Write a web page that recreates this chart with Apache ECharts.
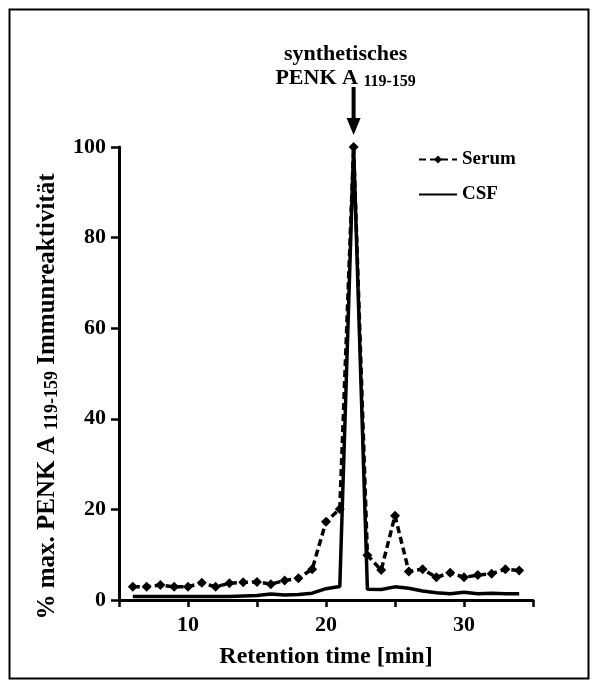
<!DOCTYPE html>
<html>
<head>
<meta charset="utf-8">
<script src="https://cdn.jsdelivr.net/npm/echarts@6/dist/echarts.min.js"></script>
<style>
html,body{margin:0;padding:0;background:#fff;}
#c{width:595px;height:685px;}
</style>
</head>
<body>
<div id="c"></div>
<script>
// Retention time (min)
var times = [6,7,8,9,10,11,12,13,14,15,16,17,18,19,20,21,22,23,24,25,26,27,28,29,30,31,32,33,34];
// % max immunoreactivity
var serum = [2.9,2.9,3.3,2.9,2.9,3.8,2.9,3.7,3.9,4.0,3.5,4.3,4.8,6.8,17.3,20.1,100,9.9,6.6,18.6,6.3,6.8,5.0,6.0,5.0,5.5,5.8,6.8,6.5];
var csf   = [0.8,0.8,0.8,0.8,0.8,0.8,0.8,0.8,0.9,1.0,1.3,1.1,1.2,1.5,2.5,3.0,100,2.4,2.3,2.9,2.6,2.0,1.6,1.4,1.7,1.4,1.5,1.4,1.4];
var xTickLabels = [10,20,30];
var yTicks = [0,20,40,60,80,100];
var seriesNames = ['Serum','CSF'];
var peakTime = 22;

var FONT = 'Liberation Serif';
function pairs(vals){ return times.map(function(t,i){ return [t, vals[i]]; }); }

var chart = echarts.init(document.getElementById('c'));
var option = {
  animation:false,
  backgroundColor:'#fff',
  grid:{left:119,right:62,top:147,bottom:85},
  legend:{
    orient:'vertical', left:413, top:145, itemGap:16, itemWidth:38, itemHeight:10,
    textStyle:{fontFamily:FONT,fontWeight:'bold',fontSize:19,color:'#000'},
    data:[{name:seriesNames[0]},{name:seriesNames[1],itemStyle:{opacity:0}}]
  },
  xAxis:{
    type:'value', min:5, max:35, interval:5,
    axisLine:{lineStyle:{color:'#000',width:3}},
    axisTick:{length:7,lineStyle:{color:'#000',width:2.5}},
    axisLabel:{
      fontFamily:FONT,fontWeight:'bold',fontSize:22,color:'#000',margin:14,
      formatter:function(v){ return xTickLabels.indexOf(v)>=0 ? String(v) : ''; }
    },
    splitLine:{show:false},
    name:'Retention time [min]', nameLocation:'middle', nameGap:45,
    nameTextStyle:{fontFamily:FONT,fontWeight:'bold',fontSize:24,color:'#000'}
  },
  yAxis:{
    type:'value', min:0, max:100, interval:20,
    axisLine:{show:true,lineStyle:{color:'#000',width:3}},
    axisTick:{show:true,length:8,lineStyle:{color:'#000',width:2.5}},
    axisLabel:{fontFamily:FONT,fontWeight:'bold',fontSize:22,color:'#000',margin:13,
      formatter:function(v){ return yTicks.indexOf(v)>=0 ? String(v) : ''; }},
    splitLine:{show:false},
    name:'{a|% max. PENK A }{s|119-159}{a| Immunreaktivität}',
    nameLocation:'middle', nameRotate:90, nameGap:57,
    nameTextStyle:{
      padding:[0,46,0,0],
      rich:{
        a:{fontFamily:FONT,fontWeight:'bold',fontSize:25,color:'#000',lineHeight:29},
        s:{fontFamily:FONT,fontWeight:'bold',fontSize:18,color:'#000',lineHeight:29,padding:[9,0,0,0]}
      }
    }
  },
  series:[
    {
      name:seriesNames[0], type:'line', data:pairs(serum),
      symbol:'diamond', symbolSize:10, showSymbol:true,
      lineStyle:{color:'#000',width:3.5,type:[7,4]},
      itemStyle:{color:'#000'}, z:3
    },
    {
      name:seriesNames[1], type:'line', data:pairs(csf),
      symbol:'none', showSymbol:false,
      lineStyle:{color:'#000',width:3.5,type:'solid'},
      itemStyle:{color:'#000'}, z:2
    }
  ]
};
chart.setOption(option);

var px = chart.convertToPixel({gridIndex:0},[peakTime,100]);
var ax = px[0];
var tipY = px[1]-12;
chart.setOption({
  graphic:[
    {type:'rect',left:7,top:7,shape:{width:579,height:669},style:{fill:'none',stroke:'#000',lineWidth:2},silent:true},
    {type:'text',x:ax-8,y:tipY-81,style:{text:'synthetisches',fontFamily:FONT,fontWeight:'bold',fontSize:22,fill:'#000',align:'center',verticalAlign:'middle'}},
    {type:'text',x:ax-8,y:tipY-57,style:{
      text:'{a|PENK A }{s|119-159}',align:'center',verticalAlign:'middle',
      rich:{a:{fontFamily:FONT,fontWeight:'bold',fontSize:22,fill:'#000',lineHeight:26},
            s:{fontFamily:FONT,fontWeight:'bold',fontSize:16,fill:'#000',lineHeight:26,padding:[8,0,0,0]}}
    }},
    {type:'line',shape:{x1:ax,y1:tipY-48,x2:ax,y2:tipY-14},style:{stroke:'#000',lineWidth:4}},
    {type:'polygon',shape:{points:[[ax-7,tipY-17],[ax+7,tipY-17],[ax,tipY]]},style:{fill:'#000'}}
  ]
});
</script>
</body>
</html>
